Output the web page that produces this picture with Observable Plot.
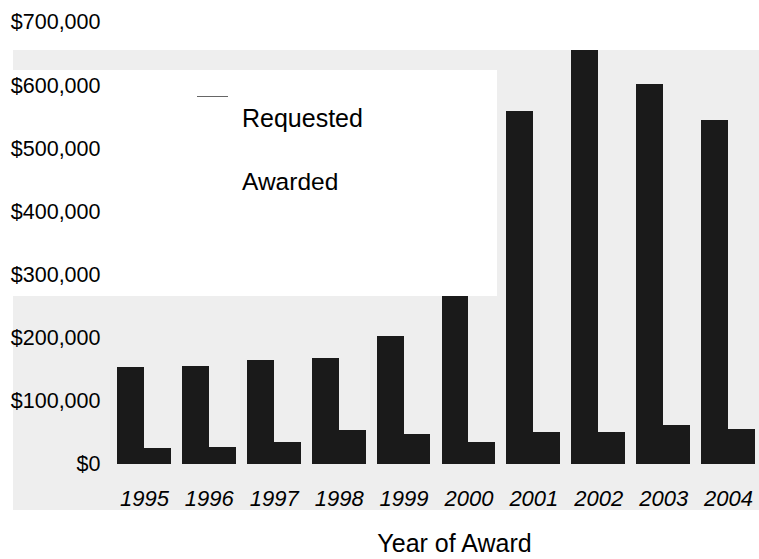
<!DOCTYPE html>
<html>
<head>
<meta charset="utf-8">
<script src="https://cdn.jsdelivr.net/npm/d3@7"></script>
<script src="https://cdn.jsdelivr.net/npm/@observablehq/plot@0.6"></script>
<style>
  html, body { margin: 0; padding: 0; background: #fff; }
  #wrap { position: relative; width: 759px; height: 559px; overflow: hidden;
          font-family: "Liberation Sans", Arial, sans-serif; color: #000; }
  .bg { position: absolute; left: 13px; top: 50px; width: 746px; height: 460px; background: #eeeeee; }
  .box { position: absolute; left: 0; top: 70px; width: 497px; height: 226px; background: #fff; }
  #chart { position: relative; }
  #caption { font-size: 25px; line-height: 30px; margin-top: 8px; padding-left: 150px; text-align: center; }
  .swatch { position: absolute; left: 197px; top: 96px; width: 31px; height: 1px; background: #666; }
  .item { position: absolute; left: 242px; font-size: 25px; line-height: 25px; white-space: nowrap; }
  [aria-label="fx-axis tick label"] text { font-style: italic; }
</style>
</head>
<body>
<div id="wrap">
  <div class="bg"></div>
  <div class="box"></div>
  <div id="chart"></div>
  <div id="caption">Year of Award</div>
  <div class="swatch"></div>
  <div class="item" style="top:106px">Requested</div>
  <div class="item" style="top:169px;font-size:24.5px">Awarded</div>
</div>
<script>
const years = ["1995","1996","1997","1998","1999","2000","2001","2002","2003","2004"];
const requested = [153000, 155000, 164000, 168000, 203000, 266000, 559000, 655000, 602000, 545000];
const awarded   = [25000, 27000, 35000, 54000, 47000, 35000, 51000, 50000, 62000, 55000];
const series = ["Requested", "Awarded"];
const yTicks = [0, 100000, 200000, 300000, 400000, 500000, 600000, 700000];

const data = years.flatMap((yr, i) => [
  {year: yr, type: series[0], value: requested[i]},
  {year: yr, type: series[1], value: awarded[i]}
]);

const chart = Plot.plot({
  width: 759,
  height: 520,
  marginTop: 22,
  marginBottom: 56,
  marginLeft: 117,
  marginRight: 4,
  style: {background: "transparent", fontFamily: "'Liberation Sans', Arial, sans-serif", color: "#000"},
  fx: {domain: years, paddingInner: 0.17, paddingOuter: 0, round: false, label: null},
  x: {domain: series, padding: 0, round: false, axis: null},
  y: {domain: [0, 700000]},
  marks: [
    Plot.barY(data, {fx: "year", x: "type", y: "value", fill: "#1a1a1a", shapeRendering: "crispEdges"}),
    Plot.axisY({ticks: yTicks, tickFormat: d3.format("$,"), tickSize: 0, tickPadding: 17, fontSize: 21.5, label: null}),
    Plot.axisFx({anchor: "bottom", tickSize: 0, tickPadding: 26, fontSize: 22, fontStyle: "italic", label: null})
  ]
});
document.getElementById("chart").appendChild(chart);
</script>
</body>
</html>
